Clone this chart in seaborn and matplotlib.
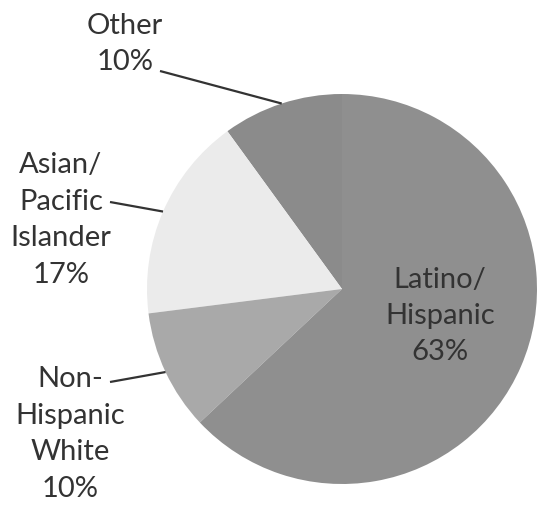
import numpy as np
import matplotlib
matplotlib.use("Agg")
import matplotlib.pyplot as plt
import seaborn as sns

# Data (counter-clockwise from 12 o'clock)
categories = ["Other", "Asian/\nPacific\nIslander", "Non-\nHispanic\nWhite", "Latino/\nHispanic"]
values = [10, 17, 10, 63]
colors = ["#8b8b8b", "#ebebeb", "#a9a9a9", "#8f8f8f"]

sns.set_theme(style="white")
plt.rcParams["font.family"] = ["Lato", "DejaVu Sans"]

W, H = 537, 508
fig = plt.figure(figsize=(W / 100, H / 100), dpi=100)
ax = fig.add_axes([0, 0, 1, 1])

cx, cy, r = 342, H - 289, 195
wedges, _ = ax.pie(values, colors=colors, startangle=90, counterclock=True,
                   center=(cx, cy), radius=r, wedgeprops=dict(linewidth=0))
ax.set_xlim(0, W)
ax.set_ylim(0, H)
ax.set_aspect("equal")
ax.axis("off")

txt_color = "#333333"
fs = 21
# label positions (image px) and leader start points
label_pos = [(125, 44), (61, 220), (70, 434), (440, 316)]
leader_start = [(160, 71), (110, 202), (110, 382), None]

for w, lab, v, (lx, ly), ls in zip(wedges, categories, values, label_pos, leader_start):
    ax.text(lx, H - ly, f"{lab}\n{v}%", ha="center", va="center", fontsize=fs,
            color=txt_color, linespacing=1.5, multialignment="center")
    if ls is not None:
        mid = np.deg2rad((w.theta1 + w.theta2) / 2)
        ex, ey = cx + r * np.cos(mid), cy + r * np.sin(mid)
        ax.plot([ls[0], ex], [H - ls[1], ey], color="#333333", lw=1.6,
                solid_capstyle="butt")

fig.savefig("out.png", dpi=100)
